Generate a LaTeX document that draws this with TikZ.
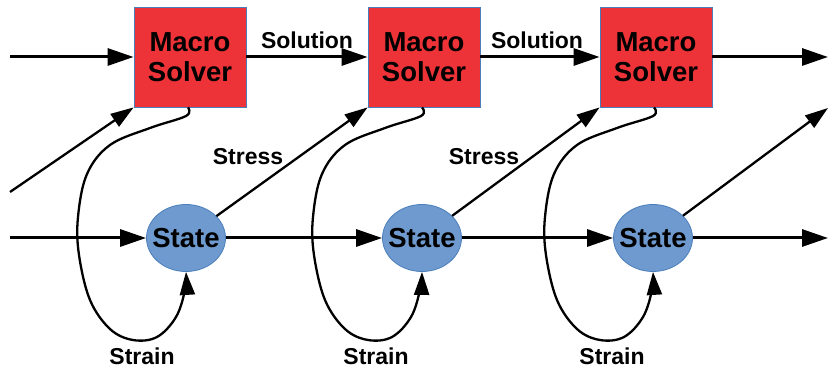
\documentclass[tikz,border=0pt]{standalone}
\usepackage{fontspec}
\setmainfont{Liberation Sans}
\usetikzlibrary{arrows.meta,shapes.geometric}
\definecolor{boxred}{HTML}{EE3338}
\definecolor{ellblue}{HTML}{6F9ACF}
\definecolor{edgeblue}{HTML}{4A7EBB}
\begin{document}
\begin{tikzpicture}[x=1pt,y=-1pt,
  solver/.style={draw=edgeblue,line width=0.8pt,fill=boxred,minimum width=112pt,minimum height=100pt,inner sep=0pt,align=center,font=\fontsize{27.5}{30}\selectfont\bfseries},
  statenode/.style={draw=edgeblue,line width=0.8pt,fill=ellblue,ellipse,minimum width=79pt,minimum height=67pt,inner sep=0pt,font=\fontsize{27.5}{30}\selectfont\bfseries},
  lbl/.style={font=\fontsize{23}{26}\selectfont\bfseries,inner sep=0pt},
  arr/.style={line width=3pt,-{Triangle[length=26pt,width=17pt]}},
  thin arr/.style={line width=2.3pt,-{Triangle[length=23pt,width=15pt]}}]
\useasboundingbox (0,0) rectangle (828,371);
\node[solver] (box1) at (190,57) {Macro\\Solver};
\node[solver] (box2) at (424,57) {Macro\\Solver};
\node[solver] (box3) at (656,57) {Macro\\Solver};
\node[statenode] (ell1) at (186,238) {\makebox[0pt]{State}};
\node[statenode] (ell2) at (422,238) {\makebox[0pt]{State}};
\node[statenode] (ell3) at (653,238) {\makebox[0pt]{State}};
\coordinate (inTop) at (10,57);
\coordinate (inBot) at (10,238);
\coordinate (inStress) at (10,192);
\coordinate (outTop) at (828,57);
\coordinate (outBot) at (828,238);
\coordinate (outStress) at (828,108);
% top row
\draw[arr] (inTop) -- (box1.west);
\draw[arr] (box1.east) -- (box2.west);
\draw[arr] (box2.east) -- (box3.west);
\draw[arr] (box3.east) -- (outTop);
% bottom row
\draw[arr] (inBot) -- (ell1.west);
\draw[arr] (ell1.east) -- (ell2.west);
\draw[arr] (ell2.east) -- (ell3.west);
\draw[arr] (ell3.east) -- (outBot);
% stress
\draw[thin arr] (inStress) -- (box1.south west);
\draw[thin arr] (ell1) -- (box2.south west);
\draw[thin arr] (ell2) -- (box3.south west);
\draw[thin arr] (ell3) -- (outStress);
% strain loops
\foreach \i/\dx in {1/0,2/235,3/467}{
  \begin{scope}[xshift=\dx pt]
  \draw[thin arr] plot[smooth,tension=0.6] coordinates {([xshift=-2pt]box\i.south) (186,116) (150,128) (110,145) (87,174) (78,217) (79,255) (90,300) (110,329) (133,340) (157,337) (176,317) (185,290) (ell\i.south)};
  \end{scope}
}
% labels
\node[lbl] (sol1) at (307,40) {Solution};
\node[lbl] (sol2) at (537,40) {Solution};
\node[lbl] (str1) at (248,157) {Stress};
\node[lbl] (str2) at (484,157) {Stress};
\node[lbl] (stn1) at (142,356) {Strain};
\node[lbl] (stn2) at (376,356) {Strain};
\node[lbl] (stn3) at (612,356) {Strain};
\end{tikzpicture}
\end{document}
